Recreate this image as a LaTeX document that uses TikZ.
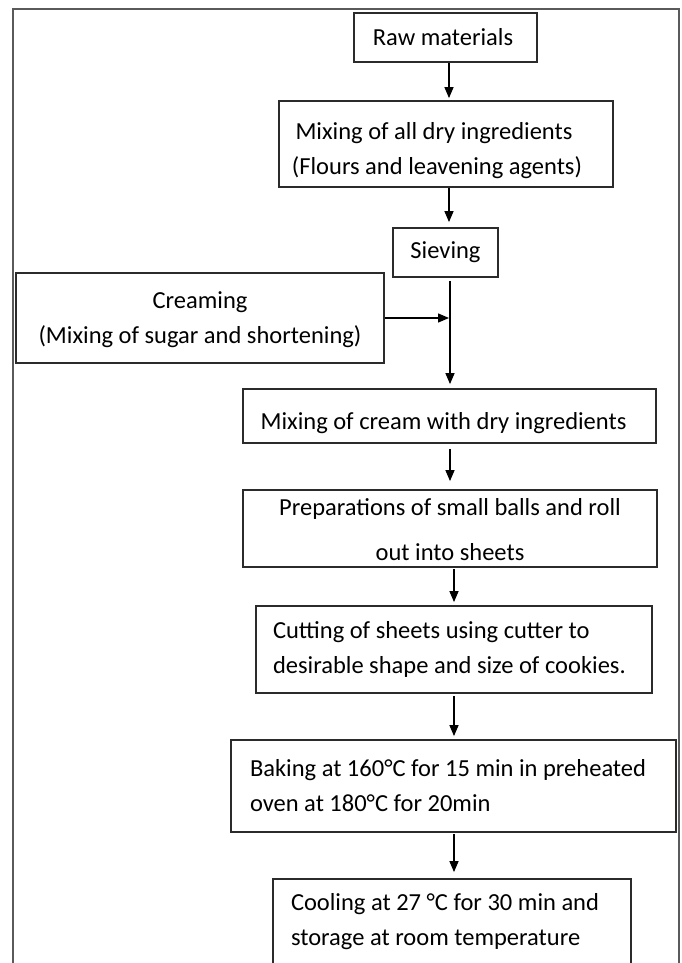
\documentclass[tikz,border=0pt]{standalone}
\usepackage{fontspec}
\setmainfont{Carlito}
\usetikzlibrary{arrows.meta}
\definecolor{boxc}{HTML}{2B2B2B}
\definecolor{framec}{HTML}{5A5A5A}
\newcommand\mvline[3]{\hspace*{#1}\raisebox{#2}[\height][\depth]{#3}}
\newcommand\nsp{\spaceskip=0pt\relax\xspaceskip=0pt\relax}
\begin{document}
\begin{tikzpicture}[x=1pt,y=-1pt,
  box/.style={draw=boxc, line width=1.8pt, rectangle, inner ysep=0pt, inner xsep=4pt,
    font=\fontsize{24.5pt}{35pt}\selectfont},
  arr/.style={line width=1.4pt, -{Triangle[width=9pt,length=11pt]}},
  frameline/.style={draw=framec, line width=1.4pt}]
\useasboundingbox (0,0) rectangle (681,963);
\fill[white] (0,0) rectangle (681,963);
\draw[frameline] (13,975) -- (13,9) -- (679,9) -- (679,975);

\node[box, minimum width=183pt, minimum height=49pt, align=center] (raw) at (445.5,37.5) {\mvline{-5pt}{0pt}{Raw materials}};
\node[box, minimum width=334pt, minimum height=86pt, align=center] (dry) at (446,144) {\mvline{-24pt}{-7pt}{Mixing of all dry ingredients}\\\mvline{-18pt}{-7pt}{(Flours and leavening agents)}};
\node[box, minimum width=105pt, minimum height=49pt] (sieve) at (445.5,252.5) {Sieving};
\node[box, minimum width=368pt, minimum height=90pt, align=center] (cream) at (200,318) {\mvline{0pt}{-2pt}{Creaming}\\\mvline{0pt}{-2pt}{(Mixing of sugar and shortening)}};
\node[box, minimum width=413pt, minimum height=54pt] (mixc) at (449.5,416) {\mvline{-12pt}{-7pt}{Mixing of cream with dry ingredients}};
\node[box, minimum width=414pt, minimum height=77pt, align=center, font=\fontsize{24.5pt}{43pt}\selectfont] (prep) at (450,528.5) {Preparations of small balls and roll\\\mvline{0pt}{-2pt}{out into sheets}};
\node[box, text width=362pt, inner xsep=17pt, minimum height=87pt, align=left] (cut) at (454,649.5) {\nsp Cutting of sheets using cutter to\\desirable shape and size of cookies.};
\node[box, text width=407pt, inner xsep=19pt, minimum height=92pt, align=left] (bake) at (453.5,786) {\nsp Baking at 160°C for 15 min in preheated\\oven at 180°C for 20min};
\node[box, text width=322pt, inner xsep=18pt, minimum height=86pt, align=left] (cool) at (452,922) {\nsp Cooling at 27 °C for 30 min and\\storage at room temperature};

\coordinate (a1) at ([xshift=3.5pt]raw.south);
\draw[arr, shorten >=2pt] (a1) -- (a1 |- dry.north);
\coordinate (a2) at ([xshift=3pt]dry.south);
\draw[arr, shorten >=5pt] (a2) -- (a2 |- sieve.north);
\coordinate (a3) at ([xshift=4.5pt]sieve.south);
\draw[arr, shorten <=3pt, shorten >=4pt] (a3) -- (a3 |- mixc.north);
\draw[arr, shorten >=1pt] (cream.east) -- (cream.east -| a3);
\coordinate (a4) at ([xshift=0.5pt]mixc.south);
\draw[arr, shorten <=5pt, shorten >=8pt] (a4) -- (a4 |- prep.north);
\coordinate (a5) at ([xshift=4pt]prep.south);
\draw[arr, shorten <=1pt, shorten >=3pt] (a5) -- (a5 |- cut.north);
\coordinate (a6) at (cut.south);
\draw[arr, shorten <=2pt, shorten >=3pt] (a6) -- (a6 |- bake.north);
\coordinate (a7) at ([xshift=0.5pt]bake.south);
\draw[arr, shorten <=1pt, shorten >=6pt] (a7) -- (a7 |- cool.north);
\end{tikzpicture}
\end{document}
